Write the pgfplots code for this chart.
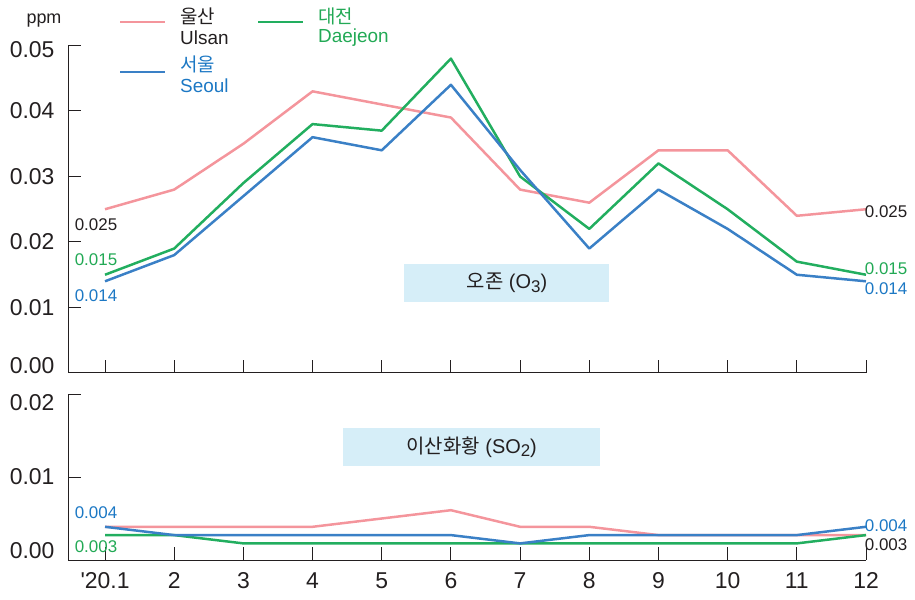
\documentclass[border=0pt]{standalone}
\usepackage{fontspec}
\setmainfont{Liberation Sans}
\newfontfamily\kr{Noto Sans CJK KR}
\usepackage{pgfplots}
\pgfplotsset{compat=1.18}
\definecolor{cUlsan}{HTML}{F4959C}
\definecolor{cDae}{HTML}{22AE5F}
\definecolor{cSeo}{HTML}{3A80C6}
\definecolor{tDae}{HTML}{22A955}
\definecolor{tSeo}{HTML}{1C78C4}
\definecolor{boxc}{HTML}{D6EEF8}
\definecolor{ink}{HTML}{231F20}
\newcommand{\sub}[1]{\raisebox{-0.18em}{\fontsize{17}{20}\selectfont #1}}
\newcommand{\mv}[2]{\raisebox{#1}[\height][\depth]{#2}}

\pgfplotstableread{
m ulsan daejeon seoul
0 0.025 0.015 0.014
1 0.028 0.019 0.018
2 0.035 0.029 0.027
3 0.043 0.038 0.036
4 0.041 0.037 0.034
5 0.039 0.048 0.044
6 0.028 0.030 0.031
7 0.026 0.022 0.019
8 0.034 0.032 0.028
9 0.034 0.025 0.022
10 0.024 0.017 0.015
11 0.025 0.015 0.014
}\ozone

\pgfplotstableread{
m ulsan daejeon seoul
0 0.004 0.003 0.004
1 0.004 0.003 0.003
2 0.004 0.002 0.003
3 0.004 0.002 0.003
4 0.005 0.002 0.003
5 0.006 0.002 0.003
6 0.004 0.002 0.002
7 0.004 0.002 0.003
8 0.003 0.002 0.003
9 0.003 0.002 0.003
10 0.003 0.002 0.003
11 0.003 0.003 0.004
}\sulfur

\pgfplotsset{
  common/.style={
    scale only axis, width=798bp, xmin=-0.535, xmax=11,
    axis x line=bottom, axis y line=left, axis line style={-, ink, line width=1pt},
    tick align=inside, major tick length=13bp,
    tick style={ink, line width=1pt},
    xtick={0,...,11},
    scaled y ticks=false,
    ticklabel style={font=\fontsize{23}{26}\selectfont, text=ink},
    yticklabel style={xshift=-10bp},
    xticklabel style={yshift=-9bp},
    clip=false,
    every axis plot/.append style={line width=2.5pt, line join=round},
  }
}

\begin{document}
\begin{tikzpicture}[x=1bp,y=1bp]
\useasboundingbox (0bp,0bp) rectangle (915bp,600bp);
% top: ozone
\begin{axis}[common, at={(68bp,227bp)}, anchor=south west, height=327.5bp,
  ymin=0, ymax=0.05, ytick={0,0.01,0.02,0.03,0.04,0.05},
  yticklabels={\mv{7bp}{0.00},0.01,0.02,0.03,0.04,\mv{-4bp}{0.05}},
  xticklabels={}]
\addplot[cUlsan] table[x=m,y=ulsan]{\ozone};
\addplot[cDae] table[x=m,y=daejeon]{\ozone};
\addplot[cSeo] table[x=m,y=seoul]{\ozone};
\node[fill=boxc, minimum width=205bp, minimum height=38bp, inner sep=0pt,
  font=\fontsize{20}{24}\selectfont, text=ink] at (axis cs:5.81,0.01374) {{\kr 오존} (O\sub{3})};
\begin{scope}[font=\fontsize{17}{20}\selectfont]
\node[text=ink] at (axis cs:-0.13,0.0226) {0.025};
\node[text=tDae] at (axis cs:-0.13,0.0173) {0.015};
\node[text=tSeo] at (axis cs:-0.13,0.0118) {0.014};
\node[text=ink] at (axis cs:11.29,0.0246) {0.025};
\node[text=tDae] at (axis cs:11.29,0.0160) {0.015};
\node[text=tSeo] at (axis cs:11.29,0.0128) {0.014};
\end{scope}
\end{axis}
% bottom: SO2
\begin{axis}[common, at={(68bp,40bp)}, anchor=south west, height=166bp,
  ymin=0, ymax=0.02, ytick={0,0.01,0.02},
  yticklabels={\mv{9bp}{0.00},0.01,\mv{-9bp}{0.02}},
  xticklabels={\textquotesingle20.1,2,3,4,5,6,7,8,9,10,11,12}]
\addplot[cUlsan] table[x=m,y=ulsan]{\sulfur};
\addplot[cDae] table[x=m,y=daejeon]{\sulfur};
\addplot[cSeo] table[x=m,y=seoul]{\sulfur};
\node[fill=boxc, minimum width=257bp, minimum height=38bp, inner sep=0pt,
  font=\fontsize{20}{24}\selectfont, text=ink] at (axis cs:5.30,0.01361) {{\kr 이산화황} (SO\sub{2})};
\begin{scope}[font=\fontsize{17}{20}\selectfont]
\node[text=tSeo] at (axis cs:-0.13,0.00566) {0.004};
\node[text=tDae] at (axis cs:-0.13,0.00157) {0.003};
\node[text=tSeo] at (axis cs:11.29,0.0041) {0.004};
\node[text=ink] at (axis cs:11.29,0.0019) {0.003};
\end{scope}
\end{axis}
% legend and unit
\node[font=\fontsize{18}{20}\selectfont, text=ink] at (44bp,579bp) {ppm};
\draw[cUlsan, line width=2.5pt] (120bp,578bp) -- (165bp,578bp);
\draw[cSeo, line width=2.5pt] (120bp,528bp) -- (165bp,528bp);
\draw[cDae, line width=2.5pt] (258bp,578bp) -- (303bp,578bp);
\begin{scope}[font=\fontsize{19}{21}\selectfont]
\node[anchor=west, text=ink, inner sep=0pt] at (180bp,584bp) {\kr 울산};
\node[anchor=west, text=ink, inner sep=0pt] at (180bp,562bp) {Ulsan};
\node[anchor=west, text=tSeo, inner sep=0pt] at (180bp,536bp) {\kr 서울};
\node[anchor=west, text=tSeo, inner sep=0pt] at (180bp,514bp) {Seoul};
\node[anchor=west, text=tDae, inner sep=0pt] at (318bp,584bp) {\kr 대전};
\node[anchor=west, text=tDae, inner sep=0pt] at (318bp,562bp) {Daejeon};
\end{scope}
\end{tikzpicture}
\end{document}
